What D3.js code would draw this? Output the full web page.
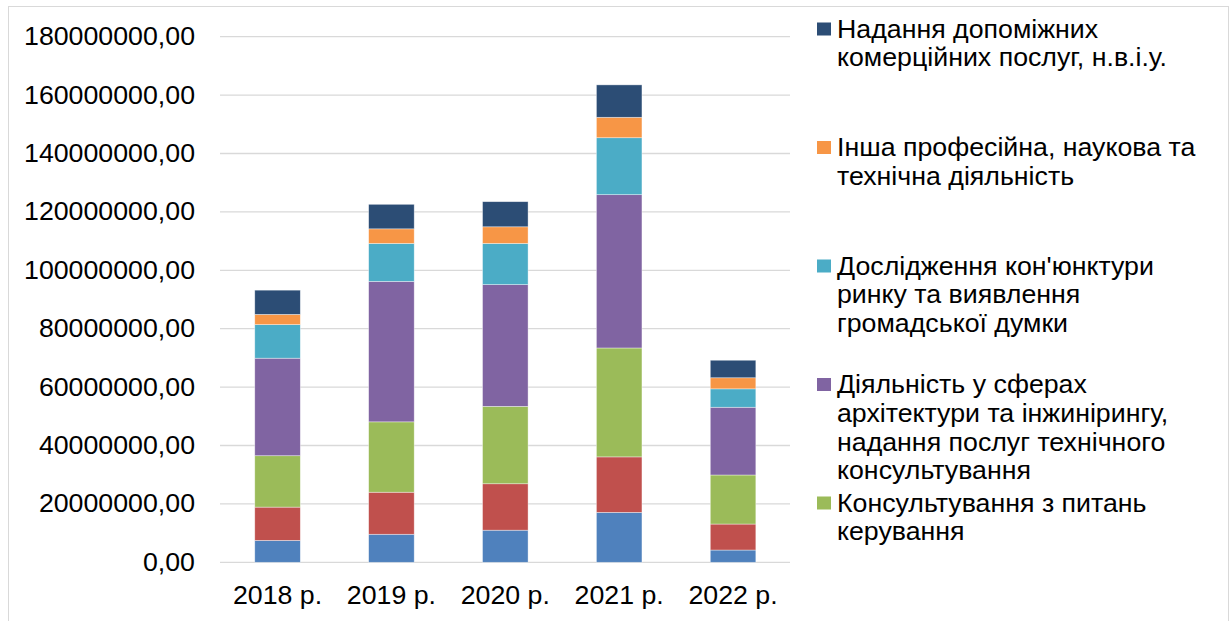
<!DOCTYPE html>
<html>
<head>
<meta charset="utf-8">
<script src="https://cdn.jsdelivr.net/npm/d3@7"></script>
<style>
  body { margin: 0; background: #fff; }
  svg text { font-family: "Liberation Sans", Arial, sans-serif; fill: #000; }
</style>
</head>
<body>
<svg id="chart" width="1232" height="621"></svg>
<script>
// years on the x axis
const years = ['2018 р.', '2019 р.', '2020 р.', '2021 р.', '2022 р.'];

// stacked series, bottom to top (values in millions)
const seriesNames = [
  'Діяльність у сферах права та бухгалтерського обліку',
  'Рекламна діяльність',
  'Консультування з питань керування',
  'Діяльність у сферах архітектури та інжинірингу, надання послуг технічного консультування',
  "Дослідження кон'юнктури ринку та виявлення громадської думки",
  'Інша професійна, наукова та технічна діяльність',
  'Надання допоміжних комерційних послуг, н.в.і.у.'
];
const law      = [7.5, 9.6, 11.0, 17.1, 4.2];
const ads      = [11.4, 14.4, 15.9, 19.0, 8.9];
const mgmt     = [17.6, 24.1, 26.5, 37.3, 16.8];
const arch     = [33.4, 48.1, 41.7, 52.5, 23.2];
const market   = [11.5, 13.0, 14.1, 19.5, 6.3];
const other    = [3.5, 5.0, 5.7, 7.0, 3.8];
const support  = [8.3, 8.4, 8.6, 11.1, 6.0];
const seriesValues = [law, ads, mgmt, arch, market, other, support];
const colors = ['#4f81bd', '#c0504d', '#9bbb59', '#8064a2', '#4bacc6', '#f79646', '#2c4d75'];

// legend only shows the top five series (the rest don't fit)
const legendSeries = [6, 5, 4, 3, 2];

const yTicks = d3.range(0, 180000001, 20000000);

// the source text is a little wider than Liberation Sans
const stretch = 1.07;
const fontSize = '25px';

const svg = d3.select('#chart');

// outer chart frame
svg.append('rect')
  .attr('x', 8.5).attr('y', 6.5)
  .attr('width', 1220).attr('height', 630)
  .attr('fill', 'none').attr('stroke', '#d9d9d9').attr('stroke-width', 1);

const x = d3.scaleBand().domain(years).range([220.6, 790]).paddingInner(0.6).paddingOuter(0.3);
const y = d3.scaleLinear().domain([0, 180000000]).range([562.3, 36.7]);

// table for d3.stack
const table = years.map((yr, i) => {
  const row = { year: yr };
  seriesNames.forEach((n, k) => { row[n] = seriesValues[k][i] * 1e6; });
  return row;
});
const stacked = d3.stack().keys(seriesNames)(table);

// grid
svg.append('g')
  .selectAll('line')
  .data(yTicks)
  .join('line')
  .attr('x1', 220).attr('x2', 790)
  .attr('y1', d => y(d)).attr('y2', d => y(d))
  .attr('stroke', '#d9d9d9').attr('stroke-width', 1.3);

// y axis labels
const fmt = d => d3.format('.2f')(d).replace('.', ',');
const yAxis = svg.append('g')
  .attr('transform', 'translate(220,0)')
  .call(d3.axisLeft(y).tickValues(yTicks).tickFormat(fmt).tickSize(0));
yAxis.select('.domain').remove();
yAxis.selectAll('text')
  .attr('x', 0)
  .attr('transform', `translate(-25,0) scale(${stretch},1)`)
  .style('font-size', fontSize).attr('font-family', null);

// bars
svg.append('g')
  .selectAll('g')
  .data(stacked)
  .join('g')
  .attr('fill', (d, i) => colors[i])
  .selectAll('rect')
  .data(d => d)
  .join('rect')
  .attr('x', d => x(d.data.year))
  .attr('width', x.bandwidth())
  .attr('y', d => y(d[1]))
  .attr('height', d => y(d[0]) - y(d[1]))
  .attr('stroke', 'rgba(255,255,255,0.55)')
  .attr('stroke-width', 0.7);

// x axis labels
const xAxis = svg.append('g')
  .attr('transform', 'translate(0,562.3)')
  .call(d3.axisBottom(x).tickSize(0).tickPadding(24));
xAxis.select('.domain').remove();
xAxis.selectAll('text')
  .attr('transform', `scale(${stretch},1)`)
  .style('font-size', fontSize).attr('font-family', null);

// legend
const legend = svg.append('g').attr('transform', 'translate(817,0)');
const maxWidth = 372 / stretch;
const lineH = 28.7;
legendSeries.forEach((si, j) => {
  const top = 29 + j * 118.5;
  legend.append('rect')
    .attr('x', 0).attr('y', top - 6.5)
    .attr('width', 14).attr('height', 13)
    .attr('fill', colors[si]);
  const text = legend.append('text')
    .attr('transform', `translate(20,0) scale(${stretch},1)`)
    .style('font-size', fontSize);
  // greedy word wrap
  const words = seriesNames[si].split(' ');
  let line = [];
  let lineNo = 0;
  let tspan = text.append('tspan').attr('x', 0).attr('y', top).attr('dy', '0.35em');
  words.forEach(w => {
    line.push(w);
    tspan.text(line.join(' '));
    if (tspan.node().getComputedTextLength() > maxWidth && line.length > 1) {
      line.pop();
      tspan.text(line.join(' '));
      line = [w];
      lineNo++;
      tspan = text.append('tspan').attr('x', 0).attr('y', top + lineNo * lineH)
        .attr('dy', '0.35em').text(w);
    }
  });
});
</script>
</body>
</html>
